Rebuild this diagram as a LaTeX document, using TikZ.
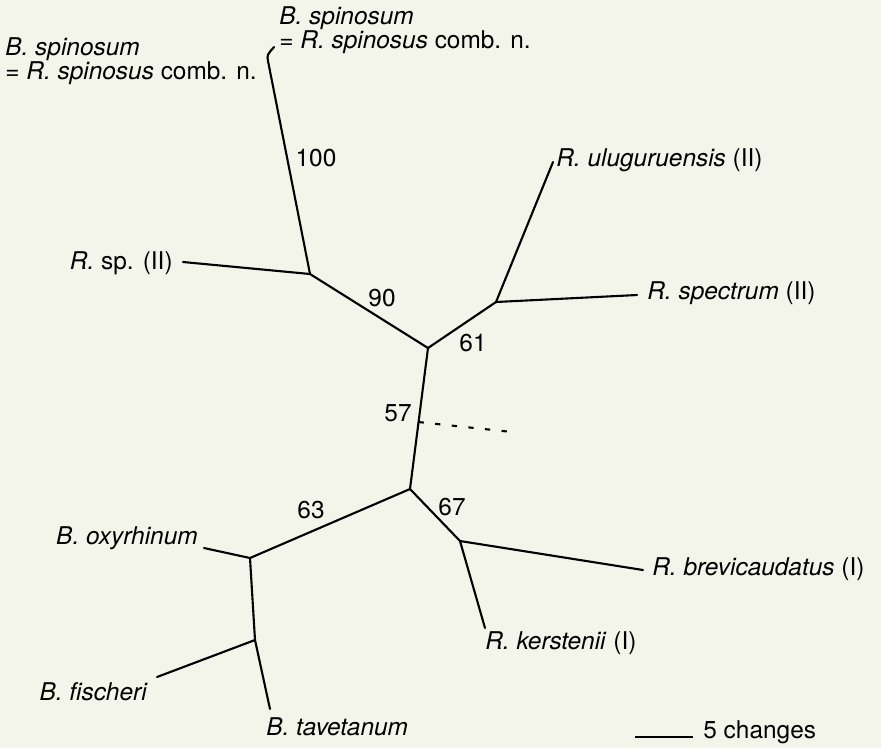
\documentclass[tikz,border=0pt]{standalone}
\usepackage{fontspec}
\setmainfont{TeX Gyre Heros}
\usetikzlibrary{calc}
\definecolor{paper}{RGB}{243,244,234}
\tikzset{
  branch/.style={line width=1.2pt,line cap=round,line join=round},
  taxon/.style={inner sep=0pt,font=\fontsize{13.9}{13.9}\selectfont},
  boot/.style={inner sep=0pt,font=\fontsize{13.9}{13.9}\selectfont}
}

\begin{document}
\begin{tikzpicture}[x=0.02cm,y=-0.02cm]

  \fill[paper] (0,0) rectangle (881,748);
  \useasboundingbox (0,0) rectangle (881,748);

  % internal nodes
  \coordinate (A) at (310,274);
  \coordinate (B) at (428,348);
  \coordinate (C) at (496,302);
  \coordinate (D) at (410,489);
  \coordinate (E) at (460,541);
  \coordinate (F) at (250,558);
  \coordinate (G) at (255,640);

  % tips
  \coordinate (spTop) at (268,61);
  \coordinate (spHook) at (274,47);
  \coordinate (rsp) at (183,262);
  \coordinate (ulu) at (553,162);
  \coordinate (spe) at (637,295);
  \coordinate (bre) at (643,570);
  \coordinate (ker) at (485,628);
  \coordinate (oxy) at (204,548);
  \coordinate (fis) at (157,677);
  \coordinate (tav) at (270,709);

  % branches
  \draw[branch] (A) -- (spTop) .. controls (267,55) .. (spHook);
  \draw[branch] (rsp) -- (A) -- (B) -- (C) -- (ulu);
  \draw[branch] (C) -- (spe);
  \draw[branch] (B) -- (D) -- (E) -- (bre);
  \draw[branch] (E) -- (ker);
  \draw[branch] (D) -- (F) -- (oxy);
  \draw[branch] (F) -- (G) -- (fis);
  \draw[branch] (G) -- (tav);

  % dashed root
  \coordinate (rootA) at ($(B)!0.525!(D)$);
  \coordinate (rootB) at (512,432);
  \draw[line width=1.2pt,dash pattern=on 3pt off 6.5pt] (rootA) -- (rootB);

  % taxa
  \node[taxon,anchor=west,align=left] (spinT) at (279,30)
    {\textit{B. spinosum}\\= \textit{R. spinosus} comb. n.};
  \node[taxon,anchor=west,align=left] (spinL) at (5,61)
    {\textit{B. spinosum}\\= \textit{R. spinosus} comb. n.};
  \node[taxon,anchor=east] (rspL) at (173,263) {\textit{R.} sp. (II)};
  \node[taxon,anchor=west] (uluL) at (556,160) {\textit{R. uluguruensis} (II)};
  \node[taxon,anchor=west] (speL) at (647,293) {\textit{R. spectrum} (II)};
  \node[taxon,anchor=west] (breL) at (652,569) {\textit{R. brevicaudatus} (I)};
  \node[taxon,anchor=west] (kerL) at (485,643) {\textit{R. kerstenii} (I)};
  \node[taxon,anchor=east] (oxyL) at (198,538) {\textit{B. oxyrhinum}};
  \node[taxon,anchor=east] (fisL) at (148,692) {\textit{B. fischeri}};
  \node[taxon,anchor=west] (tavL) at (266,727) {\textit{B. tavetanum}};

  % support values
  \foreach \nm/\pos/\val in {b100/{316,158}/100, b90/{382,298}/90, b61/{473,343}/61,
    b57/{398,413}/57, b63/{311,510}/63, b67/{452,507}/67}{
    \node[boot] (\nm) at (\pos) {\val};
  }

  % scale
  \node[taxon,anchor=base west] (scaleL) at (703,738) {5 changes};
  \coordinate (barA) at (635,737);
  \coordinate (barB) at (693,737);
  \draw[line width=1.2pt] (barA) -- (barB);

\end{tikzpicture}
\end{document}
